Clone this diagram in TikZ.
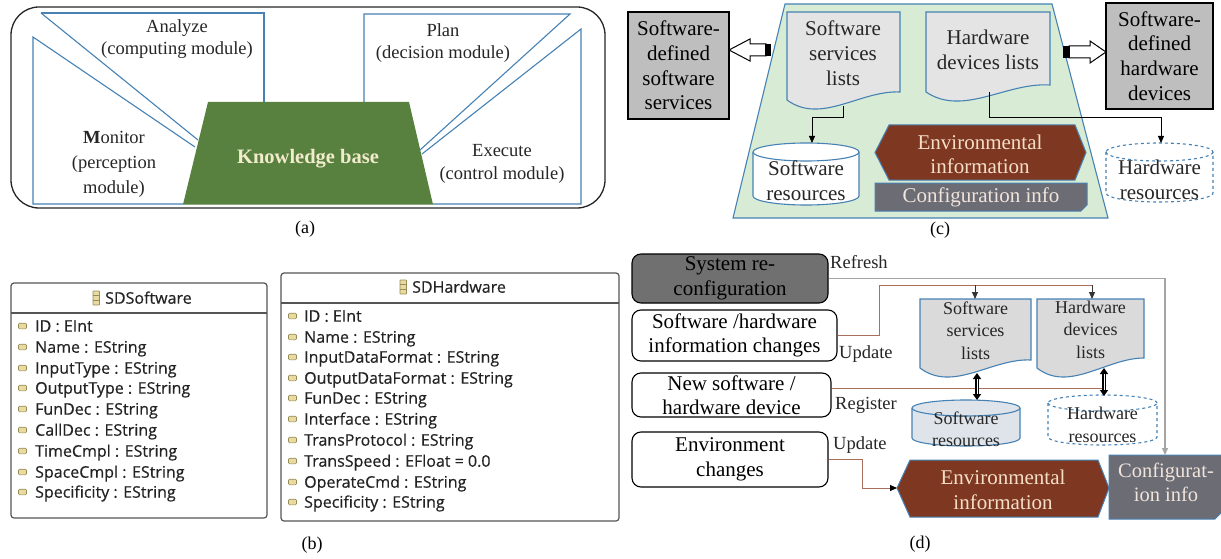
\documentclass[tikz,border=0pt]{standalone}
\usepackage{fontspec}
\setmainfont{Liberation Serif}
\newfontfamily\umlfont[FakeBold=0.4]{Open Sans}
\usetikzlibrary{arrows.meta,calc}
\definecolor{lineblue}{RGB}{70,130,180}
\definecolor{kbgreen}{RGB}{88,128,62}
\definecolor{kbtext}{RGB}{242,236,205}
\definecolor{palegreen}{RGB}{216,235,213}
\definecolor{boxgray}{RGB}{190,190,190}
\definecolor{docgray}{RGB}{228,228,228}
\definecolor{docgrayd}{RGB}{218,218,218}
\definecolor{envbrown}{RGB}{126,56,34}
\definecolor{envtext}{RGB}{245,222,200}
\definecolor{cfggray}{RGB}{108,108,116}
\definecolor{cfgtext}{RGB}{240,228,220}
\definecolor{sysgray}{RGB}{112,112,112}
\definecolor{resfill}{RGB}{222,228,234}
\definecolor{refreshgray}{RGB}{165,165,165}
\definecolor{linkbrown}{RGB}{170,110,92}
\definecolor{umledge}{RGB}{85,85,85}
\definecolor{umltext}{RGB}{35,35,35}
\definecolor{iconfill}{RGB}{232,218,160}
\definecolor{iconedge}{RGB}{150,140,85}
\newcommand{\cylpath}[6]{%
  \pgfmathsetmacro{\cylrx}{(#3-#2)/2}
  \path[#1] (#2,#4+#6) -- (#2,#5-#6) arc[start angle=180,end angle=360,x radius=\cylrx pt,y radius=#6pt] -- (#3,#4+#6) arc[start angle=0,end angle=180,x radius=\cylrx pt,y radius=#6pt] -- cycle;
  \path[#1,fill=none] (#2,#4+#6) arc[start angle=180,end angle=360,x radius=\cylrx pt,y radius=#6pt];
}
\begin{document}
\begin{tikzpicture}[x=1pt,y=-1pt,
  blueline/.style={draw=lineblue,line width=1.1pt},
  capt/.style={font=\fontsize{18}{20}\selectfont,inner sep=0pt},
  txta/.style={font=\fontsize{18.5}{22}\selectfont,align=center,inner sep=0pt,text=black!85},
  txtc/.style={font=\fontsize{21}{25}\selectfont,align=center,inner sep=0pt,text=black!85},
  txts/.style={font=\fontsize{18}{22.5}\selectfont,align=center,inner sep=0pt,text=black!85},
  lbl/.style={font=\fontsize{18.5}{22}\selectfont,inner sep=0pt,anchor=base west,text=black!85},
  graybox/.style={draw=black,line width=1.3pt,fill=boxgray,inner sep=0pt,align=center,font=\fontsize{21}{24.7}\selectfont},
  dbox/.style={draw=black,line width=1.1pt,rounded corners=9pt,inner sep=0pt,align=center,font=\fontsize{21}{24.5}\selectfont},
  docstyle/.style={draw=lineblue,line width=1.1pt,fill=docgray},
  arrowend/.style={-{Triangle[length=7pt,width=6pt]}},
  conn/.style={draw=black,line width=0.8pt},
  brownline/.style={draw=linkbrown,line width=1pt},
  umlbox/.style={draw=umledge,line width=1.2pt,rounded corners=3pt,fill=white},
  umlitem/.style={font=\umlfont\fontsize{16}{19}\selectfont,text=umltext,inner sep=0pt,anchor=base west},
  attricon/.style={draw=iconedge,fill=iconfill,line width=0.6pt,rounded corners=1pt},
]
\useasboundingbox (0,0) rectangle (1221,559);
\fill[white] (0,0) rectangle (1221,559);

% ================= (a) =================
\draw[line width=1.3pt,draw=black!85,rounded corners=28pt] (11,7) rectangle (605,208);
\draw[blueline] (41,13) -- (264,13) -- (264,102);
\draw[blueline] (41,13) -- (198,140);
\draw[blueline] (195,147) -- (33,37) -- (33,204) -- (183,204);
\draw[blueline] (364,102) -- (364,14) -- (570,14) -- (420,150);
\draw[blueline] (422,154) -- (581,29) -- (581,204) -- (433,204);
\fill[kbgreen] (208,102) -- (409,102) -- (433,204.5) -- (183,204.5) -- cycle;
\node[txta] (analyze) at (177,39) {Analyze\\(computing module)};
\node[txta] (plan) at (443,43) {Plan\\(decision module)};
\node[txta,font=\fontsize{18.5}{25}\selectfont] (monitor) at (114,164) {\textbf{M}onitor\\(perception\\module)};
\node[txta,font=\fontsize{18.5}{23}\selectfont] (execute) at (502,164) {Execute\\(control module)};
\node[inner sep=0pt,text=kbtext,font=\fontsize{20.5}{24}\selectfont\bfseries] (kb) at (308,159) {Knowledge base};
\node[capt] (capa) at (305,229) {(a)};

% ================= (b) =================
\draw[umlbox] (11,283) rectangle (267,518);
\draw[draw=umledge,line width=1.1pt] (11,313) -- (267,313);
\draw[attricon,rounded corners=0.5pt] (93,291) rectangle (99.5,305);
\draw[draw=iconedge,line width=0.6pt] (93,295.7) -- (99.5,295.7) (93,300.3) -- (99.5,300.3);
\node[umlitem] (swtitle) at (105,303.7) {SDSoftware};
\foreach \t/\yy [count=\i] in {ID : EInt/326, Name : EString/347, InputType : EString/368, OutputType : EString/388, FunDec : EString/409, CallDec : EString/430, TimeCmpl : EString/451, SpaceCmpl : EString/472, Specificity : EString/492}{
  \draw[attricon] (18.5,\yy-2.8) rectangle (26.5,\yy+2.8);
  \node[umlitem] (swattr\i) at (35,\yy+5.7) {\t};
}
\draw[umlbox] (281,273) rectangle (619,521);
\draw[draw=umledge,line width=1.1pt] (281,303) -- (619,303);
\draw[attricon,rounded corners=0.5pt] (400,280) rectangle (406.5,294);
\draw[draw=iconedge,line width=0.6pt] (400,284.7) -- (406.5,284.7) (400,289.3) -- (406.5,289.3);
\node[umlitem] (hwtitle) at (412,292.7) {SDHardware};
\foreach \t/\yy [count=\i] in {ID : EInt/316, Name : EString/337, InputDataFormat : EString/357, OutputDataFormat : EString/378, FunDec : EString/398, Interface : EString/419, TransProtocol : EString/440, TransSpeed : EFloat = 0.0/461, OperateCmd : EString/482, Specificity : EString/502}{
  \draw[attricon] (288.5,\yy-2.8) rectangle (296.5,\yy+2.8);
  \node[umlitem] (hwattr\i) at (304,\yy+5.7) {\t};
}
\node[capt] (capb) at (312,545) {(b)};

% ================= (c) =================
\path[draw=lineblue,line width=1.1pt,fill=palegreen] (785,4) -- (1052,4) -- (1108,218) -- (733,218) -- cycle;
% gray side boxes
\node[graybox,minimum width=101pt,minimum height=107pt] (sdss) at (678.5,65.5) {Software-\\defined\\software\\services};
\node[graybox,minimum width=107pt,minimum height=106pt] (sdhd) at (1159.5,56) {Software-\\defined\\hardware\\devices};
% block arrows
\filldraw[fill=white,draw=black,line width=1pt] (766,44) -- (750,44) -- (750,39) -- (729,50) -- (750,61) -- (750,56) -- (766,56) -- cycle;
\fill[black] (765,44) rectangle (771,56);
\filldraw[fill=white,draw=black,line width=1pt] (1069,46) -- (1090,46) -- (1090,41) -- (1106,52) -- (1090,63) -- (1090,58) -- (1069,58) -- cycle;
\fill[black] (1063,46) rectangle (1070,58);
% documents
\path[docstyle] (787,12) -- (900,12) -- (900,92) .. controls (860.5,90) and (821,125) .. (787,100) -- cycle;
\node[txtc] (swlistc) at (843,53.5) {Software\\services\\lists};
\path[docstyle] (926,12) -- (1050,12) -- (1050,85) .. controls (1006.6,82) and (963.2,117) .. (926,92) -- cycle;
\node[txtc] (hwlistc) at (988,49.5) {Hardware\\devices lists};
% cylinders
\cylpath{draw=lineblue,line width=1.1pt,fill=white}{753}{859}{143}{205}{9}
\node[txtc] (swresc) at (806,180.5) {Software\\resources};
\cylpath{draw=lineblue,line width=1.1pt,fill=white,dashed}{1106}{1213}{143}{202}{9}
\node[txtc] (hwresc) at (1159.5,179.5) {Hardware\\resources};
% env + config
\path[draw=lineblue,line width=1pt,fill=envbrown] (875,152.5) -- (889,125) -- (1075,125) -- (1086,152.5) -- (1075,180) -- (889,180) -- cycle;
\node[txtc,text=envtext,font=\fontsize{21}{24}\selectfont] (envc) at (980,154) {Environmental\\information};
\path[draw=lineblue,line width=1pt,fill=cfggray] (875,183) -- (1087,183) -- (1087,205) -- (1081,211) -- (875,211) -- cycle;
\node[txtc,text=cfgtext] (cfgc) at (981,197) {Configuration info};
% connectors
\coordinate (swdocbot) at (843,106);
\coordinate (swrestop) at (812,143);
\coordinate (hwdocbot) at (989,92);
\coordinate (hwrestop) at (1161,143);
\draw[conn,arrowend] (swdocbot) -- ++(0,11) -| (swrestop);
\draw[conn,arrowend] (hwdocbot) -- ++(0,25) -| (hwrestop);
\node[capt] (capc) at (940,230) {(c)};

% ================= (d) =================
\node[dbox,fill=sysgray,minimum width=196pt,minimum height=49pt] (sys) at (730,278.5) {System re-\\configuration};
\node[dbox,fill=white,minimum width=205pt,minimum height=51pt] (swh) at (734.5,335.5) {Software /hardware\\information changes};
\node[dbox,fill=white,minimum width=199pt,minimum height=44pt] (newd) at (731.5,395) {New software /\\hardware device};
\node[dbox,fill=white,minimum width=196pt,minimum height=55pt] (envch) at (730,459.5) {Environment\\changes};
% documents
\path[docstyle,fill=docgrayd] (920,299) -- (1031,299) -- (1031,360) .. controls (992,358) and (953,393) .. (920,368) -- cycle;
\node[txts] (swlistd) at (975.5,330.5) {Software\\services\\lists};
\path[docstyle,fill=docgrayd] (1037,299) -- (1144,299) -- (1144,358) .. controls (1106.5,358) and (1069,393) .. (1037,368) -- cycle;
\node[txts] (hwlistd) at (1090.5,329.5) {Hardware\\devices\\lists};
% cylinders
\cylpath{draw=lineblue,line width=1.1pt,fill=resfill}{912}{1020}{400}{446}{8}
\node[txts] (swresd) at (966,429) {Software\\resources};
\cylpath{draw=lineblue,line width=1.1pt,fill=white,dashed}{1048}{1157}{395}{445}{8}
\node[txts] (hwresd) at (1102.5,425) {Hardware\\resources};
% env + config
\path[draw=lineblue,line width=1pt,fill=envbrown] (897,488) -- (910,460) -- (1098,460) -- (1109,488) -- (1098,517) -- (910,517) -- cycle;
\node[txtc,text=envtext] (envd) at (1003,489.5) {Environmental\\information};
\path[draw=lineblue,line width=1pt,fill=cfggray] (1109,455) -- (1222,455) -- (1222,512) -- (1215,519) -- (1109,519) -- cycle;
\node[txtc,text=cfgtext,font=\fontsize{20.5}{24}\selectfont] (cfgd) at (1166,482) {Configurat-\\ion info};
% named end points
\coordinate (cfgtop) at (1165,455);
\coordinate (swdtop) at (975,299);
\coordinate (hwdtop) at (1092,299);
\coordinate (hwreg) at (1104,388);
\coordinate (envtip) at (897,488);
\coordinate (envbend) at (862,488);
\coordinate (swdbot) at (977,373);
\coordinate (swrtop) at (977,400);
\coordinate (hwdbot) at (1104,368);
\coordinate (hwrtop) at (1104,396);
% connectors
\draw[draw=refreshgray,line width=1.3pt,-{Triangle[length=7pt,width=6pt]}] (sys.east) -| (cfgtop);
\draw[brownline] (swh.east) -- (879,335.5) -- (879,285) -- (1092,285);
\draw[brownline,arrowend,draw=black!80] (975,285) -- (swdtop);
\draw[brownline,arrowend,draw=black!80] (1092,285) -- (hwdtop);
\draw[brownline] ([yshift=7pt]newd.east) -- (hwreg);
\draw[brownline] (envch.east) -- (862,459.5) -- (envbend);
\draw[brownline,-{Triangle[length=7pt,width=6pt,fill=black,color=black]}] (envbend) -- (envtip);
\foreach \a/\b in {swdbot/swrtop, hwdbot/hwrtop}{
  \draw[line width=3.2pt,{Triangle[length=6pt,width=8pt]}-{Triangle[length=6pt,width=8pt]}] (\a) -- (\b);
  \draw[white,line width=0.9pt,shorten >=6pt,shorten <=6pt] (\a) -- (\b);
}
% labels
\node[lbl] (lrefresh) at (830,268) {Refresh};
\node[lbl] (lupdate1) at (839,358) {Update};
\node[lbl] (lregister) at (835,409) {Register};
\node[lbl] (lupdate2) at (833,449) {Update};
\node[capt] (capd) at (920,544) {(d)};
\end{tikzpicture}
\end{document}
